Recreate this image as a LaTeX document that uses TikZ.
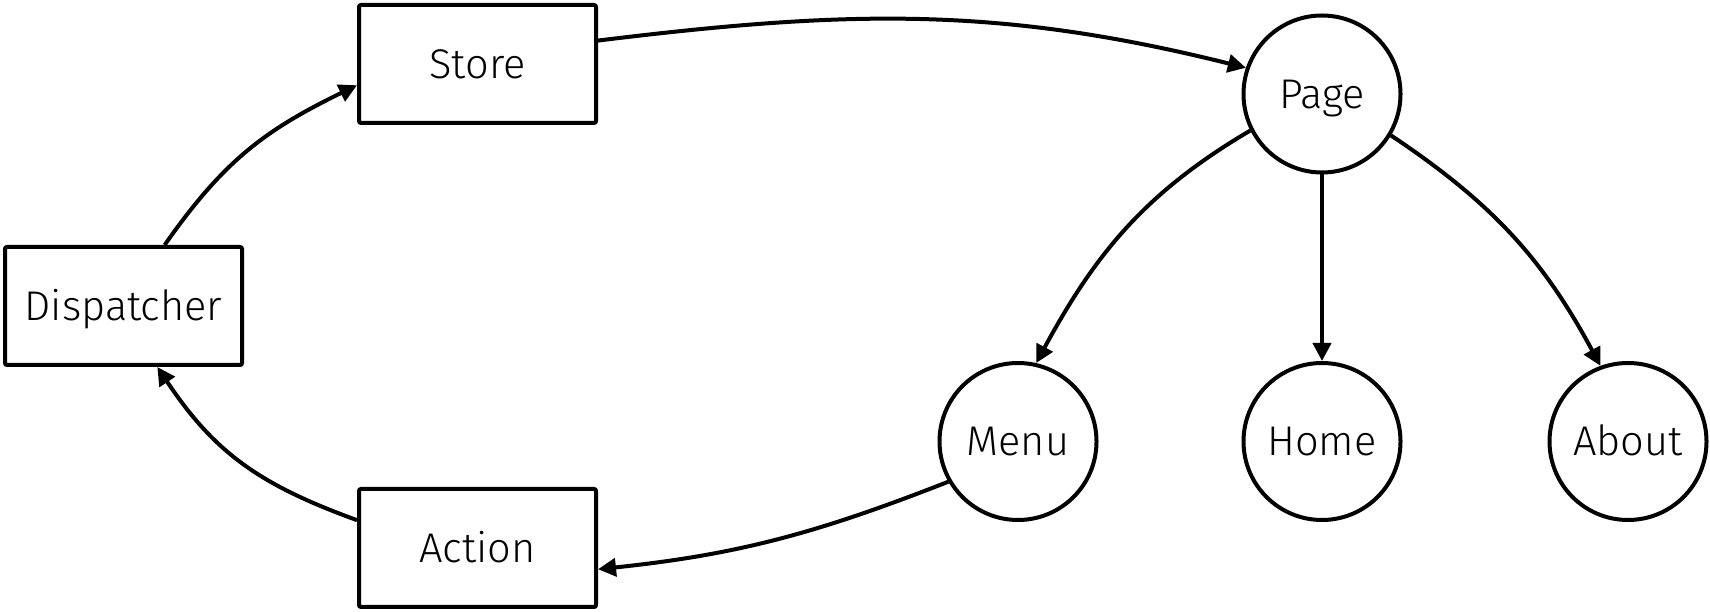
\documentclass[tikz,border=0pt]{standalone}
\usepackage{fontspec}
\setmainfont{Fira Sans Light}
\usetikzlibrary{arrows.meta}
\tikzset{
  x=1pt, y=1pt,
  lbl/.style={font=\fontsize{41.5}{48}\selectfont, text height=28.6pt, text depth=0pt},
  box/.style={draw=black, line width=4pt, rounded corners=2pt, minimum width=237pt, minimum height=118pt, inner sep=0pt, lbl},
  circ/.style={draw=black, circle, line width=4pt, minimum size=157pt, inner sep=0pt, lbl},
  conn/.style={draw=black, line width=4pt, -{Triangle[length=18pt,width=18pt]}},
}
\begin{document}
\begin{tikzpicture}
\useasboundingbox (0,0) rectangle (1710,612);
\node[box] (store) at (477.5,548) {Store};
\node[box] (disp) at (123.5,306) {Dispatcher};
\node[box] (action) at (477.5,64) {Action};
\node[circ] (page) at (1322,518) {Page};
\node[circ] (menu) at (1018,170.5) {Menu};
\node[circ] (home) at (1322,170.5) {Home};
\node[circ] (about) at (1628,170.5) {About};
\draw[conn] (disp.56) to[out=55, in=206, looseness=1.05] (store.190);
\draw[conn] (action.167) to[out=160, in=303.7, looseness=1.05] (disp.299);
\draw[conn] (store.11) to[out=7, in=166] (page.161);
\draw[conn] (page.207) to[out=210.5, in=61.5] (menu.77);
\draw[conn] (page.south) -- (home.north);
\draw[conn] (page.329) to[out=-33.7, in=118.3] (about.110);
\draw[conn] (menu.210) to[out=201.4, in=6] (action.350);
\end{tikzpicture}
\end{document}
